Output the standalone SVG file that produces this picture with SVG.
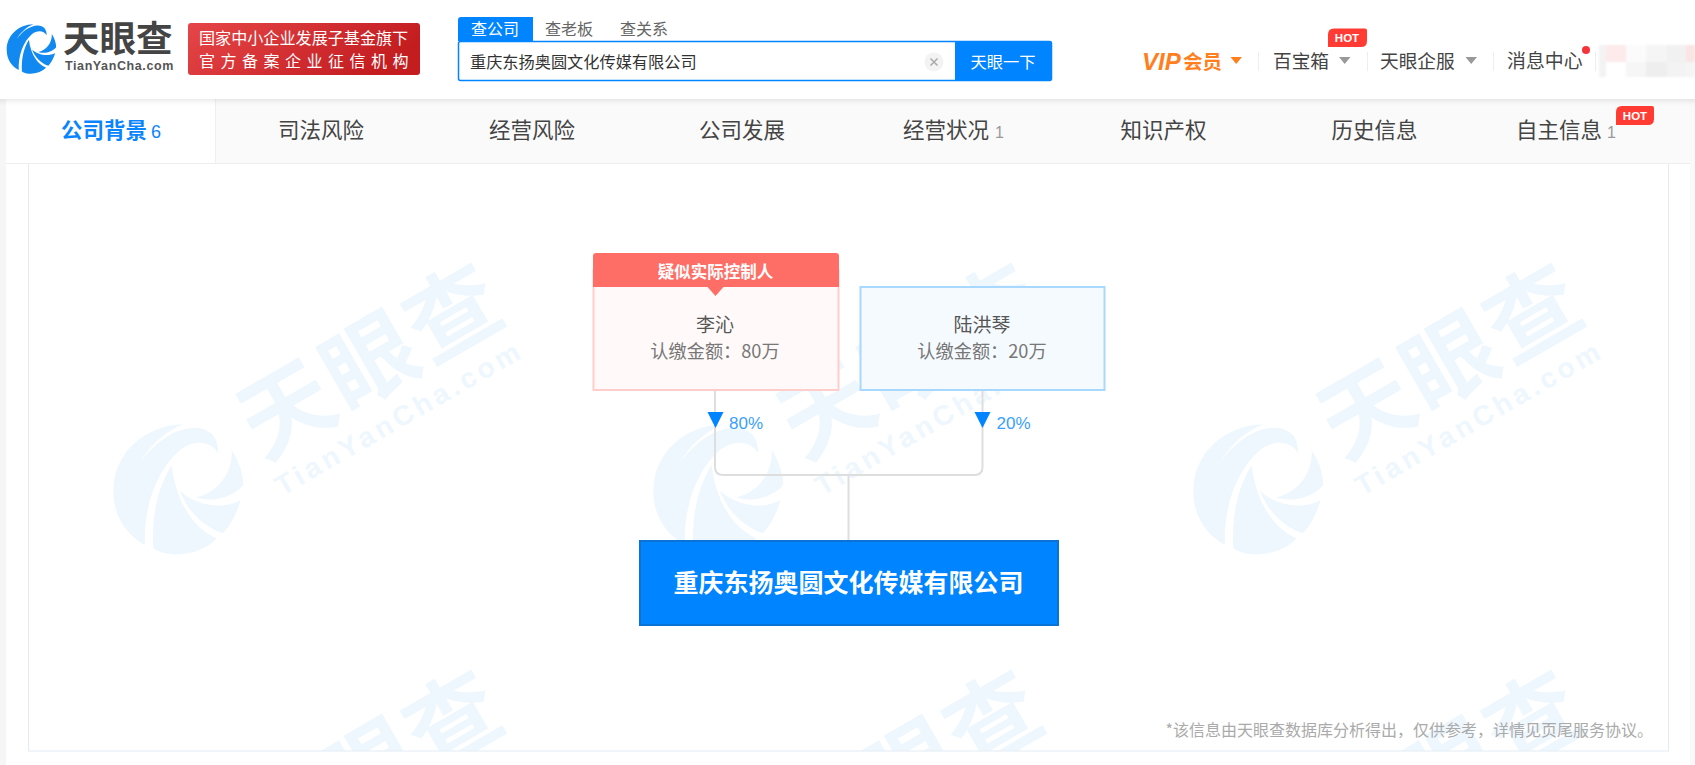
<svg xmlns="http://www.w3.org/2000/svg" width="1695" height="765" viewBox="0 0 1695 765">
<style>
text{font-family:"Noto Sans CJK SC","Liberation Sans",sans-serif}
.lat{font-family:"Liberation Sans","Noto Sans CJK SC",sans-serif}
.nav{font-size:21.5px;fill:#444;text-anchor:middle}
.top{font-size:18.5px;fill:#444}
.tab{font-size:16px;fill:#666}
.cnt{font-size:16px;fill:#999}
.hot{font-size:11.5px;font-weight:700;fill:#fff;text-anchor:middle}
.name{font-size:19px;fill:#555;text-anchor:middle}
.amt{font-size:18.2px;fill:#777;text-anchor:middle}
.pct{font-size:17px;fill:#3a9fff}
.conn{fill:none;stroke:#dedede;stroke-width:2}
.arr{fill:#0084ff}
.sep{stroke:#eee;stroke-width:1}
.mark{fill:#eef7fe}
</style>
<defs>
<linearGradient id="red" x1="0" y1="0" x2="1" y2="0.3"><stop offset="0" stop-color="#e64649"/><stop offset="1" stop-color="#c31d20"/></linearGradient>
<filter id="sh" x="-5%" y="-20%" width="110%" height="150%"><feDropShadow dx="0" dy="1" stdDeviation="3" flood-color="#000" flood-opacity="0.12"/></filter>
<filter id="soft" x="-5%" y="-5%" width="110%" height="110%"><feGaussianBlur stdDeviation="0.8"/></filter>
<clipPath id="boxclip"><rect x="29" y="164" width="1639" height="587"/></clipPath>
<path id="logo" d="M250,553C135,555 40,640 40,752C40,830 80,885 135,915C130,800 170,690 240,630C280,600 330,600 355,640C355,590 330,565 285,563C220,565 160,610 118,672C145,620 195,575 250,553ZM215,675C170,750 155,830 160,925C200,955 300,950 350,895C290,870 230,800 215,675ZM395,630C400,700 350,760 288,772C340,790 400,770 430,735C430,700 415,660 395,630ZM240,752C280,790 360,815 422,780C410,820 390,860 368,880C310,860 260,810 240,752Z"/>
<g id="wm" class="mark">
<use href="#logo" transform="translate(100,240) scale(0.3333)"/>
<text transform="translate(388,389) rotate(-30)" font-size="92" font-weight="700" text-anchor="middle" letter-spacing="4" class="mark">天眼查</text>
<text transform="translate(404,426) rotate(-30)" font-size="28" font-weight="700" text-anchor="middle" letter-spacing="4" class="lat mark">TianYanCha.com</text>
</g>
</defs>

<rect width="1695" height="765" fill="#fff"/>
<rect x="0" y="99" width="6" height="666" fill="#f6f6f6"/>
<rect x="1690" y="99" width="5" height="666" fill="#f9f9f9"/>

<g id="watermark" clip-path="url(#boxclip)">
<use href="#wm"/><use href="#wm" x="540"/><use href="#wm" x="1080"/>
<use href="#wm" y="407"/><use href="#wm" x="540" y="407"/><use href="#wm" x="1080" y="407"/>
</g>
<rect id="content-box" x="28.500" y="163" width="1640" height="588" fill="none" stroke="#e3ecf5" stroke-width="1"/>

<g id="tabs">
<rect x="6" y="99" width="1684" height="64" fill="#fafafa"/>
<rect x="6" y="99" width="209" height="64" fill="#fff"/>
<line x1="215.500" y1="99" x2="215.500" y2="163" stroke="#eee"/>
<line x1="6" y1="163.500" x2="1690" y2="163.500" stroke="#eee"/>
<text x="104" y="138" font-size="21.500" font-weight="700" fill="#0a84ff" text-anchor="middle">公司背景</text>
<text x="151" y="138" class="lat" font-size="18" fill="#0a84ff">6</text>
<text x="321" y="138" class="nav">司法风险</text>
<text x="532" y="138" class="nav">经营风险</text>
<text x="742" y="138" class="nav">公司发展</text>
<text x="946" y="138" class="nav">经营状况</text>
<text x="995" y="138" class="cnt lat">1</text>
<text x="1163.500" y="138" class="nav">知识产权</text>
<text x="1374.500" y="138" class="nav">历史信息</text>
<text x="1559" y="138" class="nav">自主信息</text>
<text x="1607" y="138" class="cnt lat">1</text>
<path d="M1622,106H1652Q1654,106 1654,108V119Q1654,125 1648,125H1616V112Q1616,106 1622,106Z" fill="#ff3b33"/>
<text x="1635" y="120" class="hot lat">HOT</text>
</g>

<g id="header">
<rect x="-10" y="-10" width="1715" height="109" fill="#fff" filter="url(#sh)"/>
<use href="#logo" fill="#1289f0" transform="translate(1.6,-46.1) scale(0.127)"/>
<text x="63" y="52" font-size="36.500" font-weight="700" fill="#444">天眼查</text>
<text x="65" y="69.500" class="lat" font-size="12.500" font-weight="700" fill="#555" letter-spacing="0.6">TianYanCha.com</text>
<rect x="188" y="23" width="232" height="52" rx="3" fill="url(#red)"/>
<text x="199" y="44" font-size="16.100" fill="#fff">国家中小企业发展子基金旗下</text>
<text x="199" y="67" font-size="16" fill="#fff" letter-spacing="5.500">官方备案企业征信机构</text>

<path d="M458,41V20Q458,17 461,17H533V41Z" fill="#0084ff"/>
<text x="471" y="35" font-size="16" fill="#fff">查公司</text>
<text x="545" y="35" class="tab">查老板</text>
<text x="620" y="35" class="tab">查关系</text>
<rect x="458.500" y="41.500" width="593" height="39" rx="2" fill="#fff" stroke="#0084ff" stroke-width="1.500"/>
<text x="470" y="68" font-size="16.200" fill="#333">重庆东扬奥圆文化传媒有限公司</text>
<circle cx="934" cy="62" r="9.500" fill="#f3f3f3"/>
<path d="M930.500,58.500L937.500,65.500M937.500,58.500L930.500,65.500" stroke="#aaa" stroke-width="1.500"/>
<path d="M955,41H1049Q1052,41 1052,44V78Q1052,81 1049,81H955Z" fill="#0084ff"/>
<text x="970.500" y="68" font-size="16.300" fill="#fff">天眼一下</text>

<text x="1142" y="69.500" class="lat" font-size="24" font-weight="700" font-style="italic" fill="#ff7f1f">VIP</text>
<text x="1183" y="69" font-size="19.500" font-weight="700" fill="#ff7f1f">会员</text>
<path d="M1230.500,57H1242L1236.200,64Z" fill="#ff7f1f"/>
<line x1="1258.500" y1="52" x2="1258.500" y2="71" class="sep"/>
<text x="1273" y="68" font-size="18.700" fill="#444">百宝箱</text>
<path d="M1339,57H1350.500L1344.700,64Z" fill="#999"/>
<line x1="1367.500" y1="52" x2="1367.500" y2="71" class="sep"/>
<text x="1380" y="68" font-size="18.700" fill="#444">天眼企服</text>
<path d="M1465.500,57H1477L1471.200,64Z" fill="#999"/>
<line x1="1493.500" y1="52" x2="1493.500" y2="71" class="sep"/>
<text x="1507" y="67.500" font-size="18.900" fill="#444">消息中心</text>
<circle cx="1586" cy="50" r="4" fill="#f5333a"/>
<line x1="1595.500" y1="52" x2="1595.500" y2="71" class="sep"/>
<g id="avatar-blur" filter="url(#soft)">
<rect x="1599" y="45" width="7" height="32" fill="#f3f3f3"/>
<rect x="1606" y="45" width="20" height="17" fill="#fdeaea"/>
<rect x="1606" y="62" width="20" height="15" fill="#fff"/>
<rect x="1626" y="45" width="20" height="17" fill="#fbfbfb"/>
<rect x="1626" y="62" width="20" height="15" fill="#f6f6f6"/>
<rect x="1646" y="45" width="21" height="17" fill="#f5f5f5"/>
<rect x="1646" y="62" width="21" height="15" fill="#eeeeee"/>
<rect x="1667" y="45" width="19" height="17" fill="#f1f1f1"/>
<rect x="1667" y="62" width="19" height="15" fill="#f3f3f3"/>
<rect x="1686" y="45" width="9" height="17" fill="#fbe4e4"/>
<rect x="1686" y="62" width="9" height="15" fill="#f5f5f5"/>
</g>
<path d="M1334,28.500H1365Q1367,28.500 1367,30.500V41Q1367,47 1361,47H1328V34.500Q1328,28.500 1334,28.500Z" fill="#ff3b33"/>
<text x="1347" y="42" class="hot lat">HOT</text>
</g>

<g id="connectors">
<path class="conn" d="M715,390V467Q715,475 723,475H974.500Q982.500,475 982.500,467V390"/>
<path class="conn" d="M848.500,475V540"/>
<path class="arr" d="M707.500,412H723.500L715.500,428Z"/>
<path class="arr" d="M974.500,412H990.500L982.500,428Z"/>
<text x="729" y="429" class="pct lat">80%</text>
<text x="996.500" y="429" class="pct lat">20%</text>
</g>

<g id="node-liqin">
<rect x="593.500" y="270" width="245" height="120" fill="#fffaf9" stroke="#ffcdca" stroke-width="2"/>
<path d="M593,287V256Q593,253 596,253H836Q839,253 839,256V287H723.500L715.500,296L707.500,287Z" fill="#ff6e66"/>
<text x="715.500" y="278" font-size="16.500" font-weight="700" fill="#fff" text-anchor="middle">疑似实际控制人</text>
<text x="715" y="332" class="name">李沁</text>
<text x="715" y="358" class="amt">认缴金额：80万</text>
</g>

<g id="node-luhongqin">
<rect x="860.500" y="287" width="244" height="103" fill="#f5faff" stroke="#a8d8fd" stroke-width="2"/>
<text x="982" y="331.500" class="name">陆洪琴</text>
<text x="982" y="358" class="amt">认缴金额：20万</text>
</g>

<g id="node-company">
<rect x="640" y="541" width="418" height="84" fill="#0084ff" stroke="#0b72d6" stroke-width="2"/>
<text x="848.500" y="592" font-size="25" font-weight="700" fill="#fff" text-anchor="middle">重庆东扬奥圆文化传媒有限公司</text>
</g>

<text id="note" x="1653" y="736" font-size="16" fill="#aaa" text-anchor="end">*该信息由天眼查数据库分析得出，仅供参考，详情见页尾服务协议。</text>
</svg>
